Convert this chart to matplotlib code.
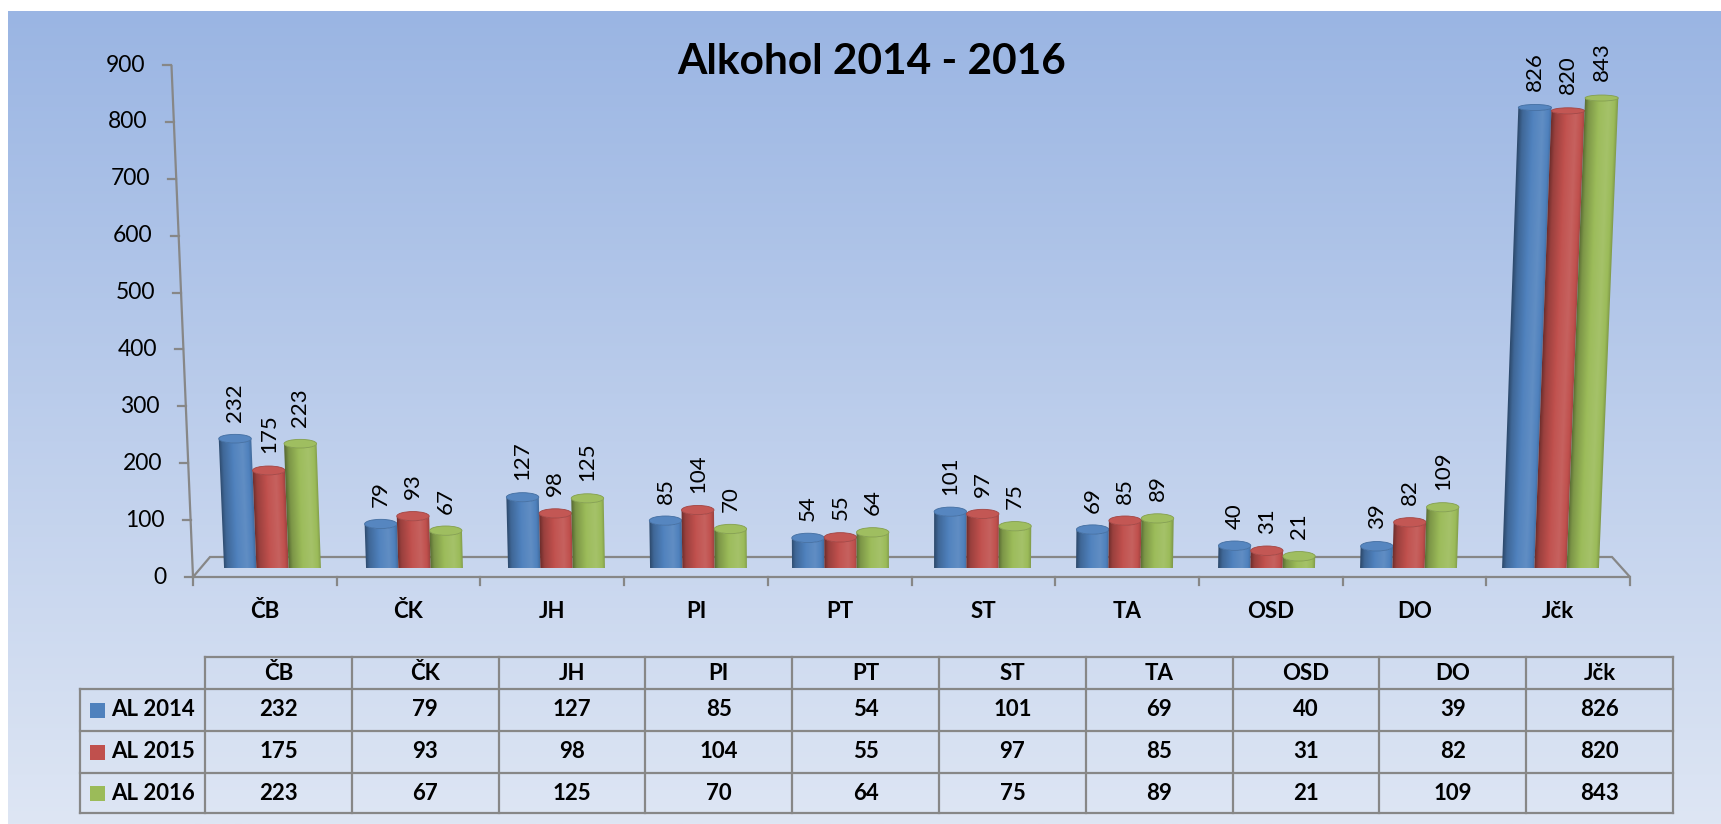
import numpy as np
import matplotlib
matplotlib.use("Agg")
import matplotlib.pyplot as plt
from matplotlib.patches import Polygon, Ellipse, Rectangle
from matplotlib.colors import to_rgb

# ---- data -------------------------------------------------------------
categories = ["ČB", "ČK", "JH", "PI", "PT", "ST", "TA", "OSD", "DO", "Jčk"]
series_names = ["AL 2014", "AL 2015", "AL 2016"]
al_2014 = [232, 79, 127, 85, 54, 101, 69, 40, 39, 826]
al_2015 = [175, 93, 98, 104, 55, 97, 85, 31, 82, 820]
al_2016 = [223, 67, 125, 70, 64, 75, 89, 21, 109, 843]
series_values = [al_2014, al_2015, al_2016]
series_colors = ["#4F81BD", "#C0504D", "#9BBB59"]
y_ticks = list(range(0, 901, 100))
y_max = 900
title = "Alkohol 2014 - 2016"

plt.rcParams["font.family"] = ["Lato", "DejaVu Sans"]

W, H = 1721, 824
fig = plt.figure(figsize=(W / 100, H / 100), dpi=100)


def box(x0, y0, x1, y1):
    """Figure-fraction rectangle from a pixel box measured from the top-left."""
    return [x0 / W, 1 - y1 / H, (x1 - x0) / W, (y1 - y0) / H]


LINE = "#878787"
n_cat = len(categories)

# ---- background gradient ---------------------------------------------
bg = fig.add_axes(box(8, 11, W, H), zorder=0)
t = np.linspace(0, 1, 500)[:, None, None]
c_top = np.array([154, 181, 227]) / 255
c_bot = np.array([222, 230, 244]) / 255
bg.imshow(c_top + (c_bot - c_top) * t, aspect="auto", extent=[0, 1, 0, 1],
          origin="upper", interpolation="bilinear")
bg.set_axis_off()

# slight perspective: the scene widens towards the top
SPREAD = 0.03
CENTER_PX = 911


def persp(x, y, xc):
    return xc + (np.asarray(x, float) - xc) * (1 + SPREAD * np.asarray(y, float) / y_max)


# ---- front wall: value axis, floor, category axis ---------------------
wall_px = (193, 65, 1630, 577)
wall = fig.add_axes(box(*wall_px), zorder=1)
wall.set_xlim(0, n_cat)
wall.set_ylim(0, y_max)
wall.set_axis_off()
wsx = (wall_px[2] - wall_px[0]) / n_cat
wsy = (wall_px[3] - wall_px[1]) / y_max
wxc = (CENTER_PX - wall_px[0]) / wsx

ys = np.array([0, y_max])
wall.plot(persp([0, 0], ys, wxc), ys, color=LINE, lw=1.6, clip_on=False,
          solid_capstyle="butt")
for v in y_ticks:
    x0 = float(persp(0, v, wxc))
    wall.plot([x0 - 8 / wsx, x0], [v, v], color=LINE, lw=1.6, clip_on=False)
    wall.annotate(str(v), (x0, v), xytext=(-26, 0), textcoords="offset pixels",
                  ha="right", va="center", fontsize=16.5, color="black",
                  annotation_clip=False)

# floor outline
depth = 20 / wsy
floor_x = [0, n_cat, n_cat - 18 / wsx, 17 / wsx, 0]
floor_y = [0, 0, depth, depth, 0]
wall.plot(floor_x, floor_y, color=LINE, lw=1.6, clip_on=False,
          solid_joinstyle="miter")
for i in range(n_cat + 1):
    wall.plot([i, i], [0, -8 / wsy], color=LINE, lw=1.6, clip_on=False)
for i, name in enumerate(categories):
    wall.annotate(name, (i + 0.5, 0), xytext=(0, -35), textcoords="offset pixels",
                  ha="center", va="center", fontsize=16, fontweight="bold",
                  annotation_clip=False)

# ---- cylinders --------------------------------------------------------
bar_base = 568
bar_scale = 0.5575  # px per value unit
bar_px = (201.5, bar_base - y_max * bar_scale, 1621.5, bar_base)
bax = fig.add_axes(box(*bar_px), zorder=2)
bax.set_axis_off()
bsx = (bar_px[2] - bar_px[0]) / n_cat
bxc = (CENTER_PX - bar_px[0]) / bsx
bar_w = 32.3 / bsx
ry0 = 4.8 / bar_scale

prof_u = [0.0, 0.12, 0.45, 0.72, 0.9, 1.0]
prof_f = [0.58, 0.8, 1.02, 1.1, 1.0, 0.82]


def shade(rgb, f):
    rgb = np.asarray(rgb)
    f = np.asarray(f)[..., None]
    dark = rgb * f
    light = rgb + (1 - rgb) * (f - 1)
    return np.where(f < 1, dark, light)


def cylinder(ax, xc, v, color, z):
    base = np.array(to_rgb(color))
    ry_top = ry0 * (1 - 0.4 * v / y_max)   # caps flatten higher up
    a = np.linspace(0, np.pi, 40)
    bx = xc - bar_w / 2 * np.cos(a)
    by = -ry0 * np.sin(a)
    tx = xc + bar_w / 2 * np.cos(a)
    ty = v - ry_top * np.sin(a)
    py = np.concatenate([by, ty])
    px = persp(np.concatenate([bx, tx]), py, bxc)
    poly = Polygon(np.column_stack([px, py]), closed=True, facecolor="none",
                   edgecolor="none")
    ax.add_patch(poly)

    x0, x1 = px.min() - 0.01, px.max() + 0.01
    y0, y1 = -ry0 - 1, v + 1
    gy = np.linspace(y0, y1, 200)[:, None]
    gx = np.linspace(x0, x1, 120)[None, :]
    left = persp(xc - bar_w / 2, gy, bxc)
    right = persp(xc + bar_w / 2, gy, bxc)
    u = np.clip((gx - left) / (right - left), 0, 1)
    img = shade(base, np.interp(u, prof_u, prof_f))
    ax.imshow(img, extent=[x0, x1, y0, y1], origin="lower", aspect="auto",
              interpolation="bilinear", clip_path=poly, zorder=z)

    top_c = float(persp(xc, v, bxc))
    top_w = bar_w * (1 + SPREAD * v / y_max)
    ax.add_patch(Ellipse((top_c, v), top_w, 2 * ry_top, facecolor=shade(base, 1.04),
                         edgecolor=shade(base, 0.85), lw=0.6, zorder=z + 0.5))
    ax.annotate(str(v), (top_c, v), xytext=(0, 17), textcoords="offset pixels",
                rotation=90, ha="center", va="bottom", fontsize=16,
                annotation_clip=False, zorder=10)


for s, (vals, col) in enumerate(zip(series_values, series_colors)):
    for i, v in enumerate(vals):
        xc = i + 0.5 + (s - 1) * bar_w
        cylinder(bax, xc, v, col, 3 + s)

bax.set_xlim(0, n_cat)
bax.set_ylim(0, y_max)

# ---- title ------------------------------------------------------------
fig.text(872 / W, 1 - 62 / H, title, ha="center", va="center",
         fontsize=30.5, fontweight="bold")

# ---- data table -------------------------------------------------------
tbl_px = (80, 657, 1673, 813)
tbl = fig.add_axes(box(*tbl_px), zorder=2)
col_w = (tbl_px[2] - 205) / n_cat
lab_w = (205 - tbl_px[0]) / col_w
row_edges = [0, 32, 74, 116, 156]
tbl.set_xlim(-lab_w, n_cat)
tbl.set_ylim(row_edges[-1], 0)
tbl.set_axis_off()

kw = dict(color=LINE, lw=1.6, clip_on=False, solid_capstyle="projecting")
tbl.plot([0, n_cat], [0, 0], **kw)
for r in row_edges[1:]:
    tbl.plot([-lab_w, n_cat], [r, r], **kw)
tbl.plot([-lab_w, -lab_w], [row_edges[1], row_edges[-1]], **kw)
for j in range(n_cat + 1):
    tbl.plot([j, j], [0, row_edges[-1]], **kw)

for j, name in enumerate(categories):
    tbl.text(j + 0.5, (row_edges[0] + row_edges[1]) / 2, name, ha="center",
             va="center", fontsize=16, fontweight="bold")

for s, (name, vals, col) in enumerate(zip(series_names, series_values, series_colors)):
    yc = (row_edges[s + 1] + row_edges[s + 2]) / 2
    tbl.add_patch(Rectangle((-lab_w + 10 / col_w, yc - 7.5), 15 / col_w, 15,
                            facecolor=col, edgecolor="none", clip_on=False))
    tbl.text(-lab_w + 31 / col_w, yc, name, ha="left", va="center",
             fontsize=16, fontweight="bold")
    for j, v in enumerate(vals):
        tbl.text(j + 0.5, yc, str(v), ha="center", va="center",
                 fontsize=16, fontweight="bold")

fig.savefig("out.png", dpi=100)
